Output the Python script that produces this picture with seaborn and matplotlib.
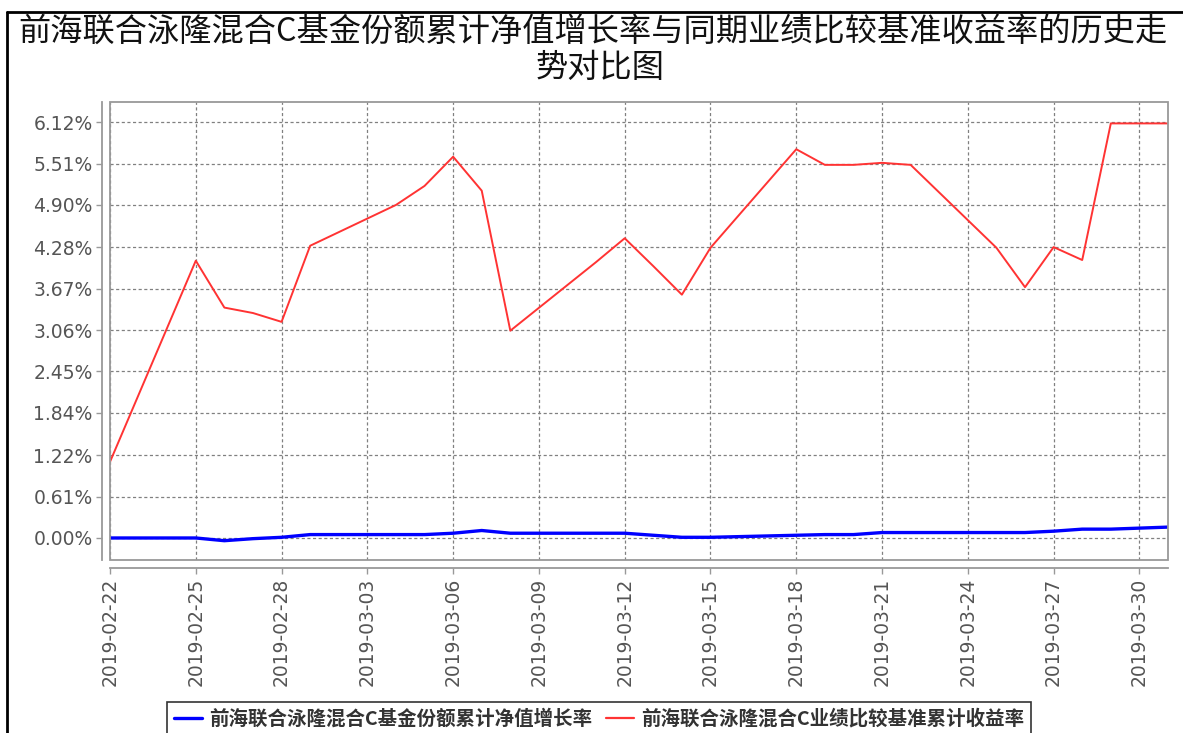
import matplotlib
matplotlib.use("Agg")
import matplotlib.pyplot as plt
import matplotlib.dates as mdates
from matplotlib.patches import Rectangle
from matplotlib.lines import Line2D
from matplotlib.ticker import FixedLocator, FuncFormatter
import seaborn as sns
import pandas as pd
import numpy as np

# ---------------- data ----------------
dates = ["2019-02-22", "2019-02-25", "2019-02-26", "2019-02-27", "2019-02-28",
         "2019-03-01", "2019-03-04", "2019-03-05", "2019-03-06", "2019-03-07",
         "2019-03-08", "2019-03-11", "2019-03-12", "2019-03-13", "2019-03-14",
         "2019-03-15", "2019-03-18", "2019-03-19", "2019-03-20", "2019-03-21",
         "2019-03-22", "2019-03-25", "2019-03-26", "2019-03-27", "2019-03-28",
         "2019-03-29", "2019-03-31"]
fund_nav_growth = [0.00, 0.00, -0.04, -0.01, 0.01,
                   0.05, 0.05, 0.05, 0.07, 0.11,
                   0.07, 0.07, 0.07, 0.04, 0.01,
                   0.01, 0.04, 0.05, 0.05, 0.08,
                   0.08, 0.08, 0.08, 0.10, 0.13,
                   0.13, 0.16]
benchmark_return = [1.12, 4.08, 3.39, 3.31, 3.18,
                    4.30, 4.90, 5.18, 5.61, 5.11,
                    3.05, 4.06, 4.41, 4.00, 3.58,
                    4.27, 5.72, 5.49, 5.49, 5.52,
                    5.49, 4.27, 3.69, 4.28, 4.09,
                    6.10, 6.10]
series_names = ["前海联合泳隆混合C基金份额累计净值增长率",
                "前海联合泳隆混合C业绩比较基准累计收益率"]
title_line1 = "前海联合泳隆混合C基金份额累计净值增长率与同期业绩比较基准收益率的历史走"
title_line2 = "势对比图"
y_ticks = [0.00, 0.61, 1.22, 1.84, 2.45, 3.06, 3.67, 4.28, 4.90, 5.51, 6.12]
x_tick_dates = ["2019-02-22", "2019-02-25", "2019-02-28", "2019-03-03", "2019-03-06",
                "2019-03-09", "2019-03-12", "2019-03-15", "2019-03-18", "2019-03-21",
                "2019-03-24", "2019-03-27", "2019-03-30"]

df = pd.DataFrame({
    "date": pd.to_datetime(dates),
    series_names[0]: fund_nav_growth,
    series_names[1]: benchmark_return,
})

# ---------------- style ----------------
sns.set_theme(style="white")
plt.rcParams["font.family"] = ["DejaVu Sans"]
cjk = ["Noto Sans CJK SC", "DejaVu Sans"]

W, H = 1183, 733
fig = plt.figure(figsize=(W / 100, H / 100), dpi=100)
fig.patch.set_facecolor("white")

left, right, top, bottom = 110, 1168, 102, 560
ax = fig.add_axes([left / W, 1 - bottom / H, (right - left) / W, (bottom - top) / H])
ax.set_facecolor("white")

blue = "#0000FF"
red = "#FF3333"
sns.lineplot(data=df, x="date", y=series_names[0], ax=ax, color=blue, linewidth=2.4,
             label=series_names[0], legend=False)
sns.lineplot(data=df, x="date", y=series_names[1], ax=ax, color=red, linewidth=1.4,
             label=series_names[1], legend=False)

ax.set_xlim(pd.Timestamp("2019-02-22"), pd.Timestamp("2019-03-31"))
ax.set_ylim(-0.324, 6.415)

ax.yaxis.set_major_locator(FixedLocator(y_ticks))
ax.yaxis.set_major_formatter(FuncFormatter(lambda v, p: f"{v:.2f}%"))
ax.xaxis.set_major_locator(FixedLocator(mdates.date2num(pd.to_datetime(x_tick_dates))))
ax.xaxis.set_major_formatter(mdates.DateFormatter("%Y-%m-%d"))

ax.set_xlabel("")
ax.set_ylabel("")

grid_col = "#808080"
ax.grid(True, which="major", color=grid_col, linestyle=(0, (2.5, 2.0)), linewidth=0.9)

axis_col = "#999999"
for s in ["top", "right"]:
    ax.spines[s].set_visible(False)
for s in ["left", "bottom"]:
    ax.spines[s].set_position(("outward", 5.5))
    ax.spines[s].set_color(axis_col)
    ax.spines[s].set_linewidth(1.3)
ax.add_patch(Rectangle((0, 0), 1, 1, transform=ax.transAxes, fill=False,
                       edgecolor=axis_col, linewidth=1.3, clip_on=False, zorder=5))

ax.tick_params(axis="both", which="major", length=4, width=1, color=axis_col,
               labelsize=13.5, labelcolor="#555555", direction="out", pad=3)
ax.tick_params(axis="both", left=True, bottom=True)
plt.setp(ax.get_xticklabels(), rotation=90)

# ---------------- title ----------------
fig.text(593 / W, 1 - 31.5 / H, title_line1, ha="center", va="center",
         fontsize=23.2, family=cjk, fontweight="medium", color="#111111")
fig.text(600 / W, 1 - 67.5 / H, title_line2, ha="center", va="center",
         fontsize=23.2, family=cjk, fontweight="medium", color="#111111")

# ---------------- legend ----------------
handles = [Line2D([], [], color=blue, linewidth=2.4),
           Line2D([], [], color=red, linewidth=1.6)]
leg = fig.legend(handles, series_names, loc="upper center",
                 bbox_to_anchor=(599 / W, 1 - 702 / H), ncol=2, frameon=True,
                 fancybox=False, shadow=False, prop={"family": cjk, "size": 14, "weight": "bold"},
                 handlelength=1.45, handletextpad=0.35, columnspacing=0.7,
                 borderpad=0.35, borderaxespad=0)
leg.get_frame().set_edgecolor("black")
leg.get_frame().set_linewidth(1.2)
for t in leg.get_texts():
    t.set_color("#333333")

# ---------------- outer frame (top and left edges) ----------------
fig.add_artist(Line2D([7 / W, 1.0], [1 - 11.5 / H, 1 - 11.5 / H], transform=fig.transFigure,
                      color="black", linewidth=2))
fig.add_artist(Line2D([7 / W, 7 / W], [0.0, 1 - 11.5 / H], transform=fig.transFigure,
                      color="black", linewidth=2))

fig.savefig("out.png", dpi=100, facecolor="white")
